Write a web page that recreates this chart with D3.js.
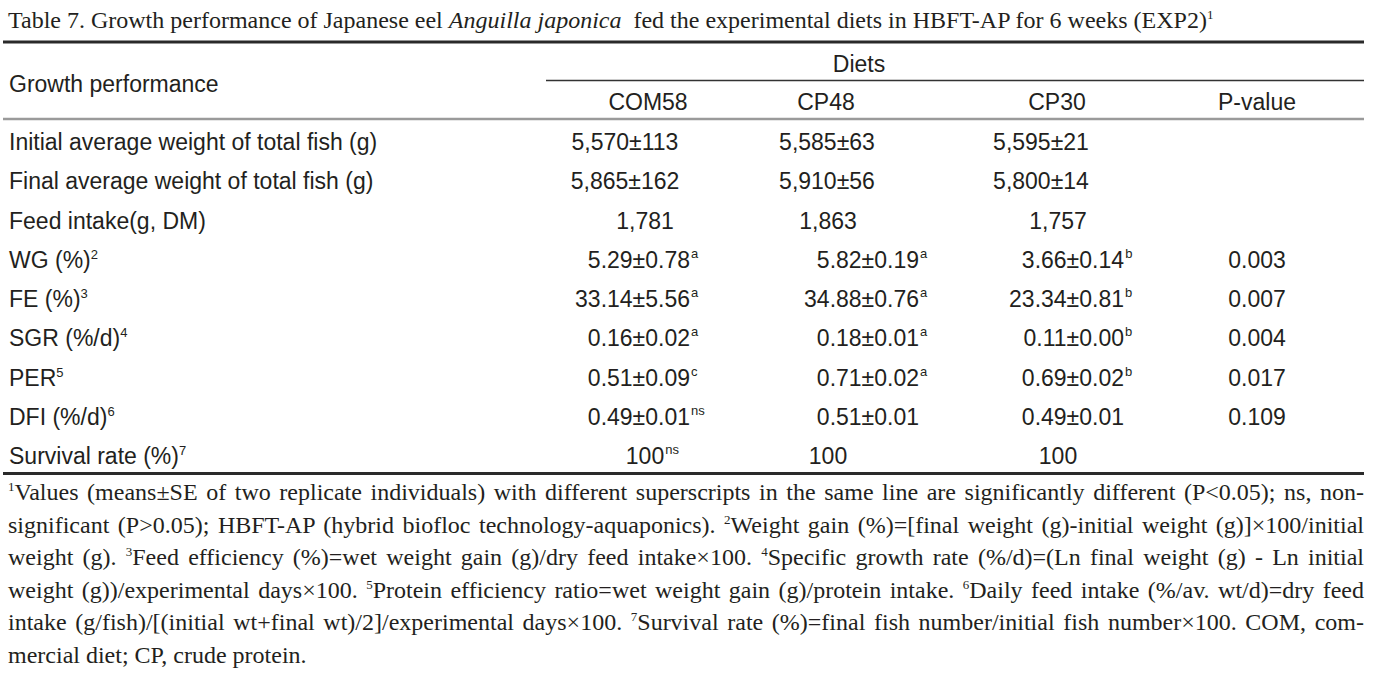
<!DOCTYPE html>
<html>
<head>
<meta charset="utf-8">
<script src="https://cdn.jsdelivr.net/npm/d3@7"></script>
<style>
  body { margin: 0; background: #fff; }
  svg { display: block; }
</style>
</head>
<body>
<div id="table7"></div>
<script>
// table content
var titleText = "Table 7. Growth performance of Japanese eel ";
var titleItalic = "Anguilla japonica";
var titleRest = "\u00a0 fed the experimental diets in HBFT-AP for 6 weeks (EXP2)";

var columns = ["COM58", "CP48", "CP30", "P-value"];
var rowLabels = ["Initial average weight of total fish (g)", "Final average weight of total fish (g)", "Feed intake(g, DM)",
  "WG (%)", "FE (%)", "SGR (%/d)", "PER", "DFI (%/d)", "Survival rate (%)"];
var rowNotes = ["", "", "", "2", "3", "4", "5", "6", "7"];

var com58 = ["5,570±113", "5,865±162", "1,781", "5.29±0.78", "33.14±5.56", "0.16±0.02", "0.51±0.09", "0.49±0.01", "100"];
var com58Sup = ["", "", "", "a", "a", "a", "c", "ns", "ns"];
var cp48 = ["5,585±63", "5,910±56", "1,863", "5.82±0.19", "34.88±0.76", "0.18±0.01", "0.71±0.02", "0.51±0.01", "100"];
var cp48Sup = ["", "", "", "a", "a", "a", "a", "", ""];
var cp30 = ["5,595±21", "5,800±14", "1,757", "3.66±0.14", "23.34±0.81", "0.11±0.00", "0.69±0.02", "0.49±0.01", "100"];
var cp30Sup = ["", "", "", "b", "b", "b", "b", "", ""];
var pValues = ["", "", "", "0.003", "0.007", "0.004", "0.017", "0.109", ""];

// footnote lines, {n} = superscript
var footLines = [
  "{1}Values (means±SE of two replicate individuals) with different superscripts in the same line are significantly different (P<0.05); ns, non-",
  "significant (P>0.05); HBFT-AP (hybrid biofloc technology-aquaponics). {2}Weight gain (%)=[final weight (g)-initial weight (g)]×100/initial",
  "weight (g). {3}Feed efficiency (%)=wet weight gain (g)/dry feed intake×100. {4}Specific growth rate (%/d)=(Ln final weight (g) - Ln initial",
  "weight (g))/experimental days×100. {5}Protein efficiency ratio=wet weight gain (g)/protein intake. {6}Daily feed intake (%/av. wt/d)=dry feed",
  "intake (g/fish)/[(initial wt+final wt)/2]/experimental days×100. {7}Survival rate (%)=final fish number/initial fish number×100. COM, com-",
  "mercial diet; CP, crude protein."
];

var W = 1384, H = 677;
var ink = "#231f20";
var sans = "'Liberation Sans', Arial, sans-serif";
var serif = "'Liberation Serif', 'Times New Roman', serif";
var fs = 23, sfs = 24;
var left = 3, right = 1364;

var svg = d3.select("#table7").append("svg")
  .attr("width", W)
  .attr("height", H);

// title
var title = svg.append("text")
  .attr("x", 8).attr("y", 28)
  .attr("font-family", serif).attr("font-size", sfs).attr("fill", ink);
title.append("tspan").text(titleText);
title.append("tspan").attr("font-style", "italic").text(titleItalic);
title.append("tspan").text(titleRest);
title.append("tspan").attr("font-size", 13).attr("dy", -9).text("1");

// rules
function rule(x1, x2, y, w, c){
  svg.append("line")
    .attr("x1", x1).attr("x2", x2).attr("y1", y).attr("y2", y)
    .attr("stroke", c).attr("stroke-width", w);
}
rule(left, right, 42, 3, "#2a2a2a");
rule(546, right, 80.5, 1.3, "#333");
rule(left, right, 119, 2.5, "#9a9a9a");
rule(left, right, 473.5, 3, "#2a2a2a");

// scales
var y = d3.scalePoint().domain(d3.range(rowLabels.length)).range([142, 456]);
var headX = d3.scaleOrdinal().domain(columns).range([648, 826, 1057, 1257]);
var plusX = d3.scaleOrdinal().domain(columns).range([625, 827, 1041, 1257]);   // integer ± values, centred
var plainX = d3.scaleOrdinal().domain(columns).range([645, 828, 1058, 1257]);  // plain integers, centred
var decX = d3.scaleOrdinal().domain(columns).range([690, 919, 1124, 1257]);    // decimal ± values, right aligned

// header
svg.append("text")
  .attr("x", 9).attr("y", 84).attr("dy", "0.35em")
  .attr("font-family", sans).attr("font-size", fs).attr("fill", ink)
  .text("Growth performance");
svg.append("text")
  .attr("x", 859).attr("y", 64).attr("dy", "0.35em")
  .attr("text-anchor", "middle")
  .attr("font-family", sans).attr("font-size", fs).attr("fill", ink)
  .text("Diets");
svg.selectAll("text.colhead").data(columns).enter().append("text")
  .attr("class", "colhead")
  .attr("x", function(d){ return headX(d); })
  .attr("y", 102).attr("dy", "0.35em")
  .attr("text-anchor", "middle")
  .attr("font-family", sans).attr("font-size", fs).attr("fill", ink)
  .text(function(d){ return d; });

// row labels
var labels = svg.selectAll("text.rowlabel").data(rowLabels).enter().append("text")
  .attr("class", "rowlabel")
  .attr("x", 9)
  .attr("y", function(d, i){ return y(i); })
  .attr("dy", "0.35em")
  .attr("font-family", sans).attr("font-size", fs).attr("fill", ink);
labels.append("tspan").text(function(d){ return d; });
labels.append("tspan")
  .attr("font-size", 13).attr("dy", -9)
  .text(function(d, i){ return rowNotes[i]; });

// cells
var series = [[com58, com58Sup], [cp48, cp48Sup], [cp30, cp30Sup], [pValues, pValues.map(function(){ return ""; })]];
series.forEach(function(s, c){
  var col = columns[c];
  var cells = s[0].map(function(v, i){ return {v: v, sup: s[1][i], i: i}; }).filter(function(d){ return d.v != ""; });
  cells.forEach(function(d){
    var isDec = c < 3 && d.v.indexOf(".") != -1;
    var x, anchor;
    if (isDec){ x = decX(col); anchor = "end"; }
    else if (d.v.indexOf("±") != -1){ x = plusX(col); anchor = "middle"; }
    else { x = plainX(col); anchor = "middle"; }
    if (c == 3){ x = headX(col); anchor = "middle"; }
    var cell = svg.append("text")
      .attr("x", x)
      .attr("y", y(d.i)).attr("dy", "0.35em")
      .attr("text-anchor", anchor)
      .attr("font-family", sans).attr("font-size", fs).attr("fill", ink)
      .text(d.v);
    if (d.sup != ""){
      // superscript sits after the number
      var bb = cell.node().getBBox();
      svg.append("text")
        .attr("x", bb.x + bb.width + 1)
        .attr("y", y(d.i) - 2)
        .attr("font-family", sans).attr("font-size", 13).attr("fill", ink)
        .text(d.sup);
    }
  });
});

// footnotes, justified
var footY = d3.scalePoint().domain(d3.range(footLines.length)).range([500, 662.5]);
footLines.forEach(function(line, i){
  var t = svg.append("text")
    .attr("x", 8).attr("y", footY(i))
    .attr("font-family", serif).attr("font-size", sfs).attr("fill", ink);
  line.split(/(\{\d\})/).forEach(function(part){
    if (part == "") return;
    var m = part.match(/^\{(\d)\}$/);
    if (m){
      t.append("tspan").attr("font-size", 13).attr("dy", -9).text(m[1]);
    } else {
      var sp = t.append("tspan").text(part);
      if (t.selectAll("tspan").size() > 1) sp.attr("dy", 9);
    }
  });
  if (i < footLines.length - 1){
    var len = t.node().getComputedTextLength();
    var spaces = (line.match(/ /g) || []).length;
    var extra = (right - 8 - len) / spaces;
    t.style("word-spacing", extra + "px");
  }
});
</script>
</body>
</html>
